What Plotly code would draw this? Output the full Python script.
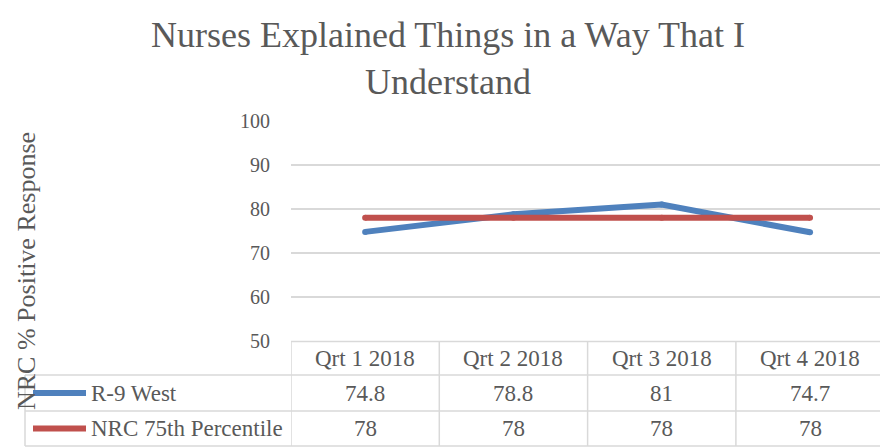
import plotly.graph_objects as go

# ---- data ----
quarters = ["Qrt 1 2018", "Qrt 2 2018", "Qrt 3 2018", "Qrt 4 2018"]
series_names = ["R-9 West", "NRC 75th Percentile"]
r9_west = [74.8, 78.8, 81, 74.7]
nrc_75th = [78, 78, 78, 78]
series_values = [r9_west, nrc_75th]
series_colors = ["#4F81BD", "#C0504D"]

title_text = "Nurses Explained Things in a Way That I<br>Understand"
y_title = "NRC % Positive Response"
y_ticks = [50, 60, 70, 80, 90, 100]

FONT = "Liberation Serif, Times New Roman, DejaVu Serif, serif"
TXT = "#595959"
GRID = "#D9D9D9"

W, H = 880, 447
ML, MR, MT, MB = 291, 0, 121, 106
plot_w = W - ML - MR
plot_h = H - MT - MB
col_w = 148.3

def py(pix):  # pixel y -> paper y
    return (H - MB - pix) / plot_h

def px(pix):  # pixel x -> paper x
    return (pix - ML) / plot_w

fig = go.Figure()
for name, vals, col in zip(series_names, series_values, series_colors):
    fig.add_trace(go.Scatter(
        x=quarters, y=vals, name=name, mode="lines+markers",
        line=dict(color=col, width=6),
        marker=dict(color=col, size=6, line=dict(width=0)),
        showlegend=False, hoverinfo="skip",
    ))

shapes = []
line_style = dict(color=GRID, width=1.5)
# horizontal table lines
shapes.append(dict(type="line", xref="paper", yref="paper", x0=0, x1=1, y0=py(341.5), y1=py(341.5), line=line_style))
for yy in [375, 411, 446]:
    shapes.append(dict(type="line", xref="paper", yref="paper", x0=px(25), x1=1, y0=py(yy), y1=py(yy), line=line_style))
# vertical table lines
for i in range(len(quarters)):
    shapes.append(dict(type="line", xref="x", yref="paper", x0=i - 0.5, x1=i - 0.5,
                       y0=py(341.5), y1=py(446), line=line_style))
shapes.append(dict(type="line", xref="paper", yref="paper", x0=px(25), x1=px(25),
                   y0=py(375), y1=py(446), line=line_style))

annotations = []
# header row
for q in quarters:
    annotations.append(dict(x=q, y=py(358), xref="x", yref="paper", text=q, showarrow=False,
                            font=dict(family=FONT, size=23, color=TXT), xanchor="center", yanchor="middle"))
row_centers = [393, 428.5]
for name, vals, col, yc in zip(series_names, series_values, series_colors, row_centers):
    shapes.append(dict(type="line", xref="paper", yref="paper", x0=px(33), x1=px(86),
                       y0=py(yc), y1=py(yc), line=dict(color=col, width=6)))
    annotations.append(dict(x=px(89), y=py(yc), xref="paper", yref="paper", text=name, showarrow=False,
                            font=dict(family=FONT, size=23, color=TXT), xanchor="left", yanchor="middle"))
    for q, v in zip(quarters, vals):
        annotations.append(dict(x=q, y=py(yc), xref="x", yref="paper", text=f"{v:g}", showarrow=False,
                                font=dict(family=FONT, size=23, color=TXT), xanchor="center", yanchor="middle"))
# y axis title
annotations.append(dict(x=px(26), y=py(271), xref="paper", yref="paper", text=y_title, textangle=-90,
                        showarrow=False, font=dict(family=FONT, size=26, color=TXT),
                        xanchor="center", yanchor="middle"))

fig.update_layout(
    width=W, height=H,
    margin=dict(l=ML, r=MR, t=MT, b=MB),
    paper_bgcolor="white", plot_bgcolor="white",
    font=dict(family=FONT, color=TXT),
    title=dict(text=title_text, x=448 / W, xanchor="center", y=1 - 47 / H, yanchor="middle",
               font=dict(family=FONT, size=36, color=TXT)),
    xaxis=dict(type="category", range=[-0.5, -0.5 + plot_w / col_w], showticklabels=False,
               showgrid=False, zeroline=False, showline=False, fixedrange=True),
    yaxis=dict(range=[50, 100], tickvals=y_ticks, showgrid=True, gridcolor=GRID, gridwidth=1.5,
               zeroline=False, showline=False, ticks="", ticklabelstandoff=20,
               tickfont=dict(family=FONT, size=20, color=TXT), fixedrange=True),
    shapes=shapes, annotations=annotations,
)

fig.write_html("out.html", config={"displayModeBar": False},
               post_script="document.body.style.margin='0';document.body.style.overflow='hidden';")
